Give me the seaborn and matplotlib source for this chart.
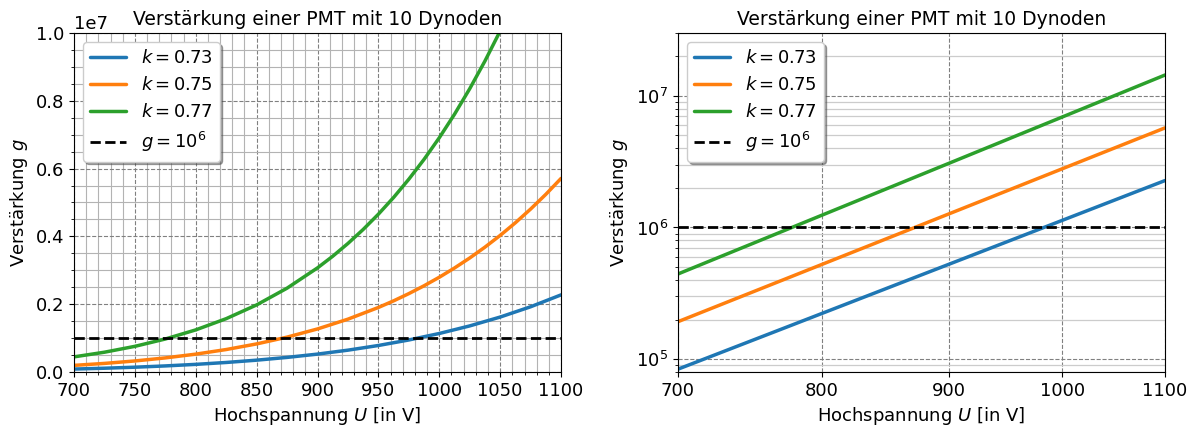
import pandas as pd
import matplotlib
matplotlib.use('Agg')
import matplotlib.pyplot as plt
import seaborn as sns
from matplotlib.ticker import ScalarFormatter, NullFormatter, AutoMinorLocator

sns.set_style('ticks')
plt.rcParams['font.family'] = ['DejaVu Sans']
plt.rcParams['font.size'] = 13
plt.rcParams['mathtext.fontset'] = 'dejavusans'
for key in ['text.color', 'axes.labelcolor', 'xtick.color', 'ytick.color', 'axes.edgecolor']:
    plt.rcParams[key] = 'black'

u_073 = [700, 725, 750, 775, 800, 825, 850, 875, 900, 925, 950, 975,
         1000, 1025, 1050, 1075, 1100]
u_075 = [700, 725, 750, 775, 800, 825, 850, 875, 900, 925, 950, 962.5, 975,
         987.5, 1000, 1012.5, 1025, 1037.5, 1050, 1062.5, 1075, 1087.5, 1100]
u_077 = [700, 725, 750, 775, 800, 825, 850, 875, 900, 912.5, 925, 937.5, 950,
         962.5, 975, 987.5, 1000, 1012.5, 1025, 1037.5, 1050, 1062.5, 1075, 1100]

# Verstärkung, in Einheiten von 1e6
g_073 = [0.0839, 0.1084, 0.1388, 0.1763, 0.2223, 0.2783, 0.3461, 0.4276,
         0.5252, 0.6415, 0.7794, 0.9422, 1.1335, 1.3573, 1.6184, 1.9218, 2.2728]
g_075 = [0.1925, 0.2504, 0.3229, 0.4129, 0.5239, 0.6599, 0.8256, 1.0260,
         1.2674, 1.5565, 1.9012, 2.0969, 2.3102, 2.5417, 2.7932, 3.0660,
         3.3615, 3.6814, 4.0274, 4.4011, 4.8052, 5.2398, 5.7094]
g_077 = [0.4433, 0.5809, 0.7540, 0.9706, 1.2395, 1.5708, 1.9769, 2.4711,
         3.0697, 3.4136, 3.7907, 4.2033, 4.6546, 5.1479, 5.6863, 6.2718,
         6.9094, 7.6031, 8.3566, 9.1735, 10.060, 11.019, 12.060, 14.394]

k_werte = ['0.73', '0.75', '0.77']
farben = ['#1f77b4', '#ff7f0e', '#2ca02c']
g_ref = 1e6

teile = []
for k, u, g in zip(k_werte, [u_073, u_075, u_077], [g_073, g_075, g_077]):
    teile.append(pd.DataFrame({'U': u, 'g': [v * 1e6 for v in g], 'k': k}))
df = pd.concat(teile, ignore_index=True)

fig, axs = plt.subplots(1, 2, figsize=(11.97, 4.26), dpi=100)
plt.subplots_adjust(left=0.0618, right=0.9733, bottom=0.127, top=0.9225, wspace=0.24)

for ax in axs:
    for k, c in zip(k_werte, farben):
        sns.lineplot(data=df[df['k'] == k], x='U', y='g', color=c, lw=2.5,
                     label=f'$k = {k}$', ax=ax)
    ax.axhline(g_ref, color='k', ls='--', lw=2, label='$g = 10^6$')
    ax.set_title('Verstärkung einer PMT mit 10 Dynoden', fontsize=13.5)
    ax.set_xlabel('Hochspannung $U$ [in V]', fontsize=13)
    ax.set_ylabel('Verstärkung $g$', fontsize=13)
    ax.tick_params(labelsize=13)
    ax.legend(loc='upper left', shadow=True, fontsize=13, framealpha=1, edgecolor='0.8')

# links: linear
ax = axs[0]
ax.set_xlim(700, 1100)
ax.set_ylim(0, 1e7)
ax.set_xticks(range(700, 1101, 50))
ax.xaxis.set_minor_locator(AutoMinorLocator(5))
ax.yaxis.set_minor_locator(AutoMinorLocator(4))
ax.yaxis.get_offset_text().set_fontsize(13)
ax.grid(which='major', color='gray', ls='--', lw=0.8)
ax.grid(which='minor', color='0.7', ls='-', lw=0.8)
ax.set_axisbelow(True)

# rechts: doppelt logarithmisch
ax = axs[1]
ax.set_xscale('log')
ax.set_yscale('log')
ax.set_xlim(700, 1100)
ax.set_ylim(8e4, 3e7)
ax.set_xticks([700, 800, 900, 1000, 1100])
ax.xaxis.set_major_formatter(ScalarFormatter())
ax.xaxis.set_minor_formatter(NullFormatter())
ax.grid(which='major', color='gray', ls='--', lw=0.8)
ax.grid(which='minor', axis='y', color='0.8', ls='-', lw=0.9)
ax.set_axisbelow(True)

plt.savefig('out.png', dpi=100)
